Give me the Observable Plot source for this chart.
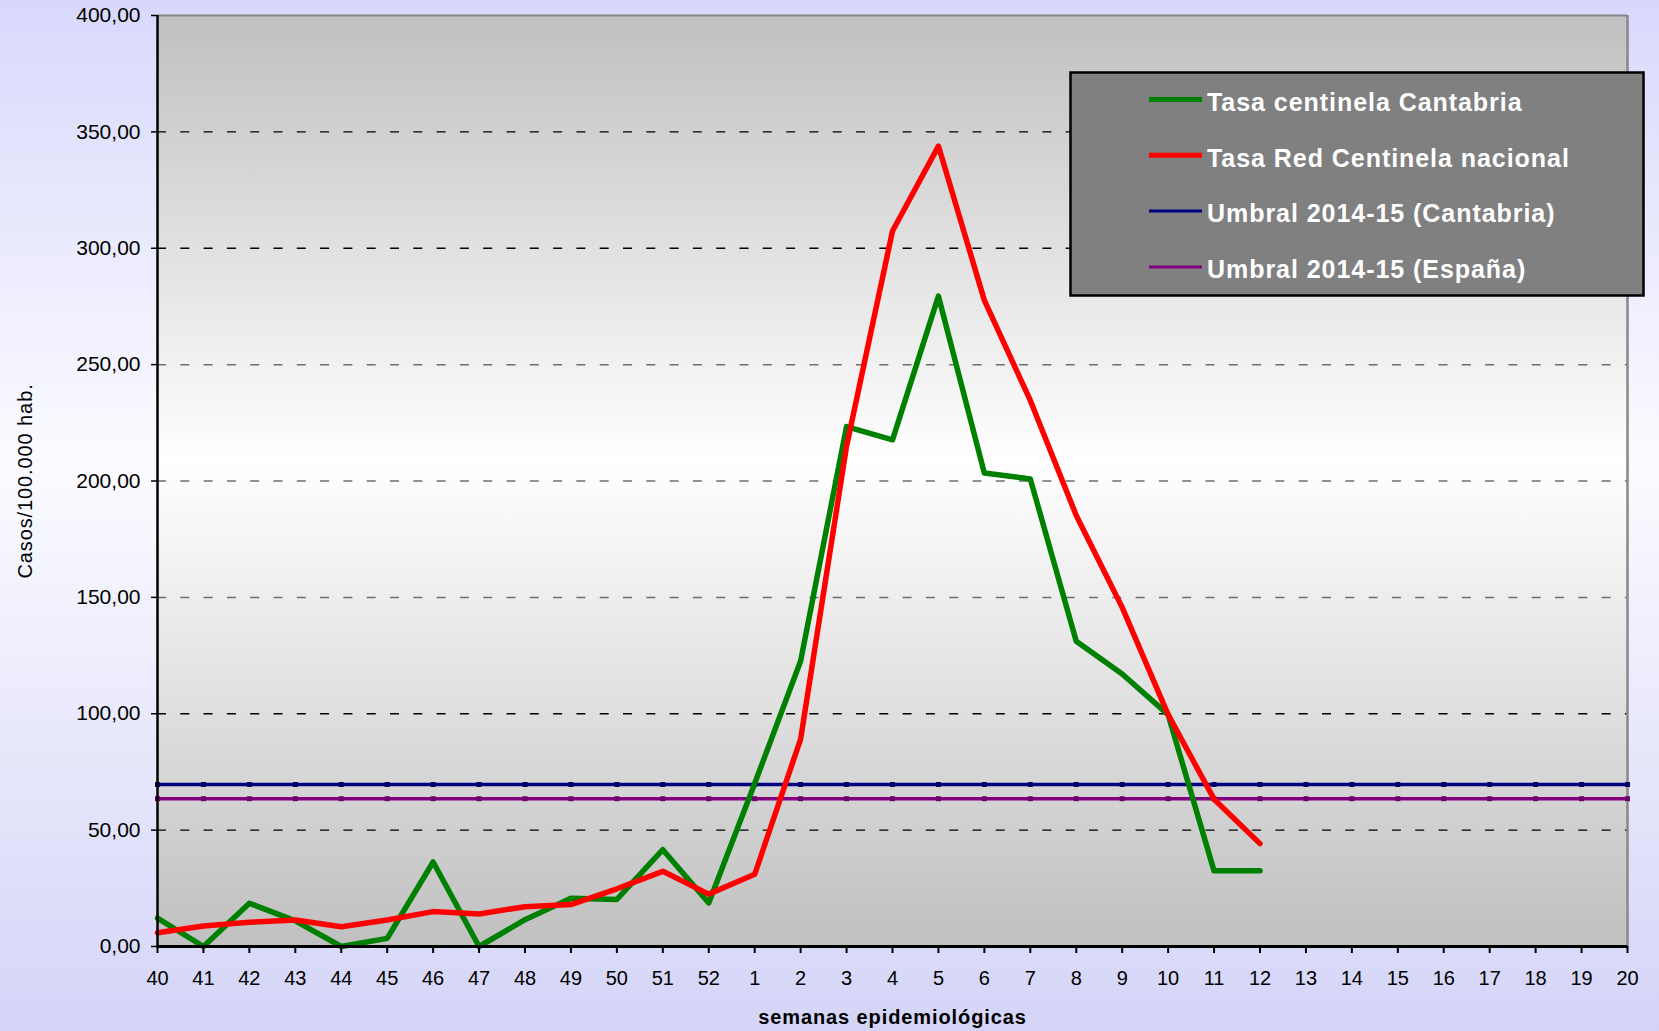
<!DOCTYPE html>
<html>
<head>
<meta charset="utf-8">
<script src="https://cdn.jsdelivr.net/npm/d3@7"></script>
<script src="https://cdn.jsdelivr.net/npm/@observablehq/plot@0.6"></script>
<style>
  html, body { margin: 0; padding: 0; }
  body {
    width: 1659px; height: 1031px; overflow: hidden;
    background: linear-gradient(to bottom, #d8d8fc 0%, #fbfbff 45%, #d4d4f8 100%);
    font-family: "Liberation Sans", Arial, sans-serif;
  }
</style>
</head>
<body>
<div id="chart"></div>
<script>
// ---- data ----
const weeks = ["40","41","42","43","44","45","46","47","48","49","50","51","52",
               "1","2","3","4","5","6","7","8","9","10","11","12","13","14","15","16","17","18","19","20"];
const tasaCantabria = [12.2, 0, 18.6, 11, 0, 3.5, 36.3, 0, 11.5, 20.7, 20.2, 41.6, 18.7,
                       70, 122.7, 223.4, 217.7, 279.4, 203.4, 200.9, 131.1, 117.1, 99.6, 32.5, 32.5];
const tasaNacional = [5.9, 8.8, 10.4, 11.4, 8.5, 11.4, 15, 14, 17.1, 18, 24.8, 32.3, 22.5,
                      31, 89.1, 215, 307.4, 343.9, 277.6, 234.6, 185.2, 145.7, 99.6, 63.3, 44.2];
const umbralCantabria = 69.6;
const umbralEspana = 63.5;
const yTicks = [0, 50, 100, 150, 200, 250, 300, 350, 400];
const gridValues = [50, 100, 150, 200, 250, 300, 350];
const seriesNames = ["Tasa centinela Cantabria", "Tasa Red Centinela nacional",
                     "Umbral 2014-15 (Cantabria)", "Umbral 2014-15 (España)"];
const seriesColors = ["#008000", "#ff0000", "#000080", "#800080"];
const xTitle = "semanas epidemiológicas";
const yTitle = "Casos/100.000 hab.";

// ---- tables ----
const rowsC = tasaCantabria.map((v, i) => ({week: weeks[i], value: v}));
const rowsN = tasaNacional.map((v, i) => ({week: weeks[i], value: v}));
const thrC = weeks.map(w => ({week: w, value: umbralCantabria}));
const thrE = weeks.map(w => ({week: w, value: umbralEspana}));

const FONT = "'Liberation Sans', Arial, sans-serif";

const plot = Plot.plot({
  width: 1659,
  height: 1031,
  marginLeft: 157,
  marginRight: 32,
  marginTop: 15,
  marginBottom: 85,
  style: `background: transparent; font-family: ${FONT}; color: black; overflow: visible;`,
  x: {type: "point", domain: weeks, padding: 0, round: false, label: null},
  y: {domain: [0, 400], label: null},
  marks: [
    Plot.frame({fill: "url(#plotGrad)", stroke: null}),
    Plot.ruleY(gridValues, {filter: d => d < 150 || d > 250, stroke: "#000", strokeWidth: 1.3, strokeDasharray: "9,14.3"}),
    Plot.ruleY(gridValues, {filter: d => d >= 150 && d <= 250, stroke: "#6e6e6e", strokeWidth: 1.5, strokeDasharray: "9,14.3"}),
    Plot.ruleY([400], {stroke: "#888", strokeWidth: 2}),
    Plot.ruleX([weeks[weeks.length - 1]], {stroke: "#888", strokeWidth: 2.5}),
    Plot.lineY(thrC, {x: "week", y: "value", stroke: seriesColors[2], strokeWidth: 3.5}),
    Plot.dot(thrC, {x: "week", y: "value", symbol: "square", r: 2.8, fill: "#00006a"}),
    Plot.lineY(thrE, {x: "week", y: "value", stroke: seriesColors[3], strokeWidth: 3.5}),
    Plot.dot(thrE, {x: "week", y: "value", symbol: "square", r: 2.8, fill: "#6a006a"}),
    Plot.lineY(rowsC, {x: "week", y: "value", stroke: seriesColors[0], strokeWidth: 5.5, strokeLinejoin: "round"}),
    Plot.lineY(rowsN, {x: "week", y: "value", stroke: seriesColors[1], strokeWidth: 5.5, strokeLinejoin: "round"}),
    Plot.ruleY([0], {stroke: "black", strokeWidth: 3}),
    Plot.ruleX([weeks[0]], {stroke: "black", strokeWidth: 2.5}),
    Plot.axisY({ticks: yTicks, tickSize: 6, tickPadding: 11, strokeWidth: 1.5,
                tickFormat: d => d.toFixed(2).replace(".", ","), fontSize: 21, label: null}),
    Plot.axisX({tickSize: 7, tickPadding: 17, strokeWidth: 2, fontSize: 20, label: null}),
    Plot.text([xTitle], {frameAnchor: "bottom", dy: 77, fontWeight: "bold", fontSize: 20}),
    Plot.text([yTitle], {frameAnchor: "left", textAnchor: "middle", dx: -132, rotate: -90, fontSize: 20})
  ]
});

const svg = d3.select(plot);
// gradient for plot area
const defs = svg.insert("defs", ":first-child");
const grad = defs.append("linearGradient").attr("id", "plotGrad")
  .attr("x1", 0).attr("y1", 0).attr("x2", 0).attr("y2", 1);
grad.append("stop").attr("offset", "0%").attr("stop-color", "#c0c0c0");
grad.append("stop").attr("offset", "48%").attr("stop-color", "#ffffff");
grad.append("stop").attr("offset", "100%").attr("stop-color", "#c0c0c0");

// spacing on titles
svg.selectAll("g[aria-label='text'] text").attr("letter-spacing", "0.9px");

// legend
const leg = svg.append("g").attr("font-family", FONT).attr("text-anchor", "start");
leg.append("rect")
  .attr("x", 1070.5).attr("y", 72.5).attr("width", 573).attr("height", 223)
  .attr("fill", "#808080").attr("stroke", "black").attr("stroke-width", 2.5);
seriesNames.forEach((name, i) => {
  const y = 99.5 + i * 55.8;
  leg.append("line")
    .attr("x1", 1149).attr("x2", 1202).attr("y1", y).attr("y2", y)
    .attr("stroke", seriesColors[i]).attr("stroke-width", i < 2 ? 5 : 3);
  leg.append("text")
    .attr("x", 1207).attr("y", y).attr("dy", "0.45em")
    .attr("text-anchor", "start")
    .attr("fill", "white").attr("font-weight", "bold").attr("font-size", 25)
    .attr("letter-spacing", "0.95px")
    .text(name);
});

document.getElementById("chart").appendChild(plot);
</script>
</body>
</html>
